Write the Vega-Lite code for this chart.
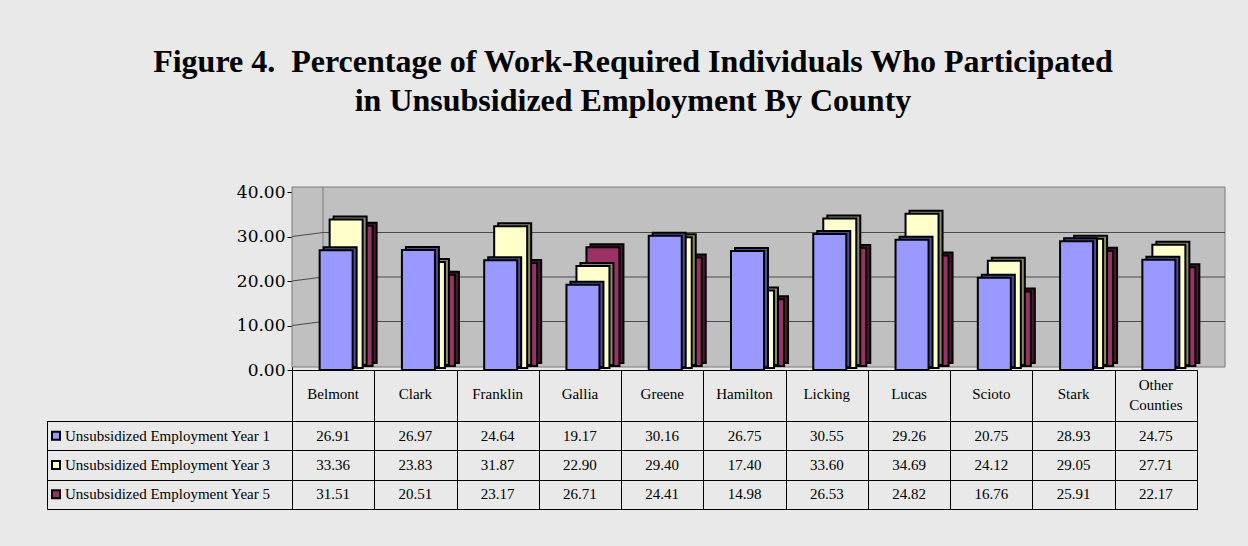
{
  "$schema": "https://vega.github.io/schema/vega-lite/v6.json",
  "background": "#e9e9e9",
  "padding": {"left": 46, "top": 46, "right": 23, "bottom": 39},
  "title": {
    "text": ["Figure 4.\u00a0 Percentage of Work-Required Individuals Who Participated", "in Unsubsidized Employment By County"],
    "font": "Liberation Serif", "fontSize": 32, "fontWeight": "bold", "lineHeight": 39,
    "color": "black", "anchor": "middle", "offset": 65, "dx": -3
  },
  "config": {"font": "Liberation Serif", "view": {"stroke": null}},
  "datasets": {
    "vals": [
      {"county": "Belmont", "series": "Unsubsidized Employment Year 1", "value": 26.91},
      {"county": "Belmont", "series": "Unsubsidized Employment Year 3", "value": 33.36},
      {"county": "Belmont", "series": "Unsubsidized Employment Year 5", "value": 31.51},
      {"county": "Clark", "series": "Unsubsidized Employment Year 1", "value": 26.97},
      {"county": "Clark", "series": "Unsubsidized Employment Year 3", "value": 23.83},
      {"county": "Clark", "series": "Unsubsidized Employment Year 5", "value": 20.51},
      {"county": "Franklin", "series": "Unsubsidized Employment Year 1", "value": 24.64},
      {"county": "Franklin", "series": "Unsubsidized Employment Year 3", "value": 31.87},
      {"county": "Franklin", "series": "Unsubsidized Employment Year 5", "value": 23.17},
      {"county": "Gallia", "series": "Unsubsidized Employment Year 1", "value": 19.17},
      {"county": "Gallia", "series": "Unsubsidized Employment Year 3", "value": 22.90},
      {"county": "Gallia", "series": "Unsubsidized Employment Year 5", "value": 26.71},
      {"county": "Greene", "series": "Unsubsidized Employment Year 1", "value": 30.16},
      {"county": "Greene", "series": "Unsubsidized Employment Year 3", "value": 29.40},
      {"county": "Greene", "series": "Unsubsidized Employment Year 5", "value": 24.41},
      {"county": "Hamilton", "series": "Unsubsidized Employment Year 1", "value": 26.75},
      {"county": "Hamilton", "series": "Unsubsidized Employment Year 3", "value": 17.40},
      {"county": "Hamilton", "series": "Unsubsidized Employment Year 5", "value": 14.98},
      {"county": "Licking", "series": "Unsubsidized Employment Year 1", "value": 30.55},
      {"county": "Licking", "series": "Unsubsidized Employment Year 3", "value": 33.60},
      {"county": "Licking", "series": "Unsubsidized Employment Year 5", "value": 26.53},
      {"county": "Lucas", "series": "Unsubsidized Employment Year 1", "value": 29.26},
      {"county": "Lucas", "series": "Unsubsidized Employment Year 3", "value": 34.69},
      {"county": "Lucas", "series": "Unsubsidized Employment Year 5", "value": 24.82},
      {"county": "Scioto", "series": "Unsubsidized Employment Year 1", "value": 20.75},
      {"county": "Scioto", "series": "Unsubsidized Employment Year 3", "value": 24.12},
      {"county": "Scioto", "series": "Unsubsidized Employment Year 5", "value": 16.76},
      {"county": "Stark", "series": "Unsubsidized Employment Year 1", "value": 28.93},
      {"county": "Stark", "series": "Unsubsidized Employment Year 3", "value": 29.05},
      {"county": "Stark", "series": "Unsubsidized Employment Year 5", "value": 25.91},
      {"county": "Other Counties", "series": "Unsubsidized Employment Year 1", "value": 24.75},
      {"county": "Other Counties", "series": "Unsubsidized Employment Year 3", "value": 27.71},
      {"county": "Other Counties", "series": "Unsubsidized Employment Year 5", "value": 22.17}
    ],
    "series": [
      {"series": "Unsubsidized Employment Year 1"},
      {"series": "Unsubsidized Employment Year 3"},
      {"series": "Unsubsidized Employment Year 5"}
    ],
    "wall": [{"lo": 0, "hi": 40}],
    "grid": [{"v": 10}, {"v": 20}, {"v": 30}]
  },
  "columns": 2,
  "spacing": {"row": 51, "column": 0},
  "bounds": "flush",
  "resolve": {"scale": {"x": "independent", "y": "independent", "fill": "independent"}},
  "concat": [
    {
      "width": 245, "height": 178,
      "data": {"values": [{}]},
      "mark": {"type": "text", "text": ""},
      "encoding": {}
    },
    {
      "width": 905, "height": 178,
      "resolve": {"scale": {"x": "independent"}},
      "layer": [
        {
          "data": {"name": "wall"},
          "mark": {"type": "rect", "fill": "#c0c0c0", "stroke": "#7a7a7a", "strokeWidth": 1, "x2Offset": 28, "yOffset": -3, "y2Offset": -5},
          "encoding": {
            "x": {"datum": 0, "type": "quantitative", "scale": {"domain": [0, 1]}, "axis": null},
            "x2": {"datum": 1},
            "y": {"field": "lo", "type": "quantitative", "scale": {"domain": [0, 40], "nice": false}, "axis": {"title": null, "values": [0, 10, 20, 30, 40], "format": ".2f", "labelFont": "DejaVu Serif", "labelFontSize": 17, "labelColor": "black", "domainColor": "black", "tickColor": "black", "tickSize": 5, "labelPadding": 2, "grid": false}},
            "y2": {"field": "hi"}
          }
        },
        {
          "data": {"name": "wall"},
          "mark": {"type": "rule", "color": "#7a7a7a", "strokeWidth": 1, "xOffset": 31, "x2Offset": 31, "yOffset": -3, "y2Offset": -5},
          "encoding": {
            "x": {"datum": 0, "type": "quantitative", "scale": {"domain": [0, 1]}, "axis": null},
            "x2": {"datum": 0},
            "y": {"field": "lo", "type": "quantitative", "scale": {"domain": [0, 40], "nice": false}, "axis": {"title": null, "values": [0, 10, 20, 30, 40], "format": ".2f", "labelFont": "DejaVu Serif", "labelFontSize": 17, "labelColor": "black", "domainColor": "black", "tickColor": "black", "tickSize": 5, "labelPadding": 2, "grid": false}},
            "y2": {"field": "hi"}
          }
        },
        {
          "data": {"name": "grid"},
          "mark": {"type": "rule", "color": "#4a4a4a", "strokeWidth": 1, "xOffset": 31, "x2Offset": 28, "yOffset": -4, "y2Offset": -4},
          "encoding": {
            "x": {"datum": 0, "type": "quantitative", "scale": {"domain": [0, 1]}, "axis": null},
            "x2": {"datum": 1},
            "y": {"field": "v", "type": "quantitative", "scale": {"domain": [0, 40], "nice": false}, "axis": {"title": null, "values": [0, 10, 20, 30, 40], "format": ".2f", "labelFont": "DejaVu Serif", "labelFontSize": 17, "labelColor": "black", "domainColor": "black", "tickColor": "black", "tickSize": 5, "labelPadding": 2, "grid": false}},
            "y2": {"field": "v"}
          }
        },
        {
          "data": {"name": "grid"},
          "mark": {"type": "rule", "color": "#4a4a4a", "strokeWidth": 1, "xOffset": 0, "x2Offset": 31, "yOffset": 0, "y2Offset": -4},
          "encoding": {
            "x": {"datum": 0, "type": "quantitative", "scale": {"domain": [0, 1]}, "axis": null},
            "x2": {"datum": 0},
            "y": {"field": "v", "type": "quantitative", "scale": {"domain": [0, 40], "nice": false}, "axis": {"title": null, "values": [0, 10, 20, 30, 40], "format": ".2f", "labelFont": "DejaVu Serif", "labelFontSize": 17, "labelColor": "black", "domainColor": "black", "tickColor": "black", "tickSize": 5, "labelPadding": 2, "grid": false}},
            "y2": {"field": "v"}
          }
        },
        {
          "data": {"name": "vals"},
          "encoding": {
            "x": {"field": "county", "type": "nominal", "sort": null, "scale": {"paddingInner": 0, "paddingOuter": 0},
              "axis": {"title": null, "orient": "bottom", "tickBand": "extent", "tickSize": 51, "tickColor": "black", "domainColor": "black", "labels": false, "grid": false}},
            "y": {"field": "value", "type": "quantitative", "scale": {"domain": [0, 40], "nice": false}, "axis": {"title": null, "values": [0, 10, 20, 30, 40], "format": ".2f", "labelFont": "DejaVu Serif", "labelFontSize": 17, "labelColor": "black", "domainColor": "black", "tickColor": "black", "tickSize": 5, "labelPadding": 2, "grid": false}}
          },
          "layer": [
            {"transform": [{"filter": "datum.series == 'Unsubsidized Employment Year 5'"}],
             "mark": {"type": "bar", "width": 33, "xOffset": 27, "yOffset": -7, "y2Offset": -7, "fill": "#4c1933", "stroke": "black", "strokeWidth": 2}},
            {"transform": [{"filter": "datum.series == 'Unsubsidized Employment Year 5'"}],
             "mark": {"type": "bar", "width": 33, "xOffset": 23, "yOffset": -4, "y2Offset": -4, "fill": "#993366", "stroke": "black", "strokeWidth": 2}},
            {"transform": [{"filter": "datum.series == 'Unsubsidized Employment Year 3'"}],
             "mark": {"type": "bar", "width": 33, "xOffset": 17, "yOffset": -5, "y2Offset": -5, "fill": "#8a8a6a", "stroke": "black", "strokeWidth": 2}},
            {"transform": [{"filter": "datum.series == 'Unsubsidized Employment Year 3'"}],
             "mark": {"type": "bar", "width": 33, "xOffset": 13, "yOffset": -2, "y2Offset": -2, "fill": "#ffffcc", "stroke": "black", "strokeWidth": 2}},
            {"transform": [{"filter": "datum.series == 'Unsubsidized Employment Year 1'"}],
             "mark": {"type": "bar", "width": 33, "xOffset": 7, "yOffset": -3, "y2Offset": -3, "fill": "#4c4c99", "stroke": "black", "strokeWidth": 2}},
            {"transform": [{"filter": "datum.series == 'Unsubsidized Employment Year 1'"}],
             "mark": {"type": "bar", "width": 33, "xOffset": 3, "fill": "#9999ff", "stroke": "black", "strokeWidth": 2}},
            {"transform": [{"filter": "datum.series == 'Unsubsidized Employment Year 1' && datum.county != 'Other Counties'"}],
             "mark": {"type": "text", "font": "Liberation Serif", "fontSize": 15, "color": "black", "baseline": "middle", "yOffset": 24},
             "encoding": {
               "y": {"datum": 0, "type": "quantitative", "scale": {"domain": [0, 40], "nice": false}, "axis": {"title": null, "values": [0, 10, 20, 30, 40], "format": ".2f", "labelFont": "DejaVu Serif", "labelFontSize": 17, "labelColor": "black", "domainColor": "black", "tickColor": "black", "tickSize": 5, "labelPadding": 2, "grid": false}},
               "text": {"field": "county", "type": "nominal"}
             }},
            {"transform": [{"filter": "datum.series == 'Unsubsidized Employment Year 1' && datum.county == 'Other Counties'"}],
             "mark": {"type": "text", "font": "Liberation Serif", "fontSize": 15, "color": "black", "baseline": "middle", "yOffset": 15, "lineBreak": " ", "lineHeight": 20},
             "encoding": {
               "y": {"datum": 0, "type": "quantitative", "scale": {"domain": [0, 40], "nice": false}, "axis": {"title": null, "values": [0, 10, 20, 30, 40], "format": ".2f", "labelFont": "DejaVu Serif", "labelFontSize": 17, "labelColor": "black", "domainColor": "black", "tickColor": "black", "tickSize": 5, "labelPadding": 2, "grid": false}},
               "text": {"field": "county", "type": "nominal"}
             }}
          ]
        }
      ]
    },
    {
      "width": 245, "height": 88,
      "data": {"name": "series"},
      "view": {"stroke": "black", "strokeWidth": 1},
      "encoding": {
        "y": {"field": "series", "type": "nominal", "sort": null, "scale": {"paddingInner": 0, "paddingOuter": 0},
          "axis": {"title": null, "labels": false, "ticks": false, "domain": false, "grid": true, "tickBand": "extent", "gridColor": "black", "gridOpacity": 1}}
      },
      "layer": [
        {
          "mark": {"type": "point", "shape": "square", "size": 64, "filled": true, "opacity": 1, "stroke": "black", "strokeWidth": 2, "xOffset": 9},
          "encoding": {
            "x": {"datum": 0, "type": "quantitative", "scale": {"domain": [0, 1]}, "axis": null},
            "fill": {"field": "series", "type": "nominal", "scale": {"domain": ["Unsubsidized Employment Year 1", "Unsubsidized Employment Year 3", "Unsubsidized Employment Year 5"], "range": ["#9999ff", "#ffffcc", "#993366"]}, "legend": null}
          }
        },
        {
          "mark": {"type": "text", "align": "left", "baseline": "middle", "dx": 18, "font": "Liberation Serif", "fontSize": 15, "color": "black"},
          "encoding": {
            "x": {"datum": 0, "type": "quantitative", "scale": {"domain": [0, 1]}, "axis": null},
            "text": {"field": "series", "type": "nominal"}
          }
        }
      ]
    },
    {
      "width": 905, "height": 88,
      "data": {"name": "vals"},
      "view": {"stroke": "black", "strokeWidth": 1},
      "mark": {"type": "text", "font": "Liberation Serif", "fontSize": 15, "color": "black", "baseline": "middle"},
      "encoding": {
        "x": {"field": "county", "type": "nominal", "sort": null, "scale": {"paddingInner": 0, "paddingOuter": 0},
          "axis": {"title": null, "labels": false, "ticks": false, "domain": false, "grid": true, "tickBand": "extent", "gridColor": "black", "gridOpacity": 1}},
        "y": {"field": "series", "type": "nominal", "sort": null, "scale": {"paddingInner": 0, "paddingOuter": 0},
          "axis": {"title": null, "labels": false, "ticks": false, "domain": false, "grid": true, "tickBand": "extent", "gridColor": "black", "gridOpacity": 1}},
        "text": {"field": "value", "type": "quantitative", "format": ".2f"}
      }
    }
  ]
}
